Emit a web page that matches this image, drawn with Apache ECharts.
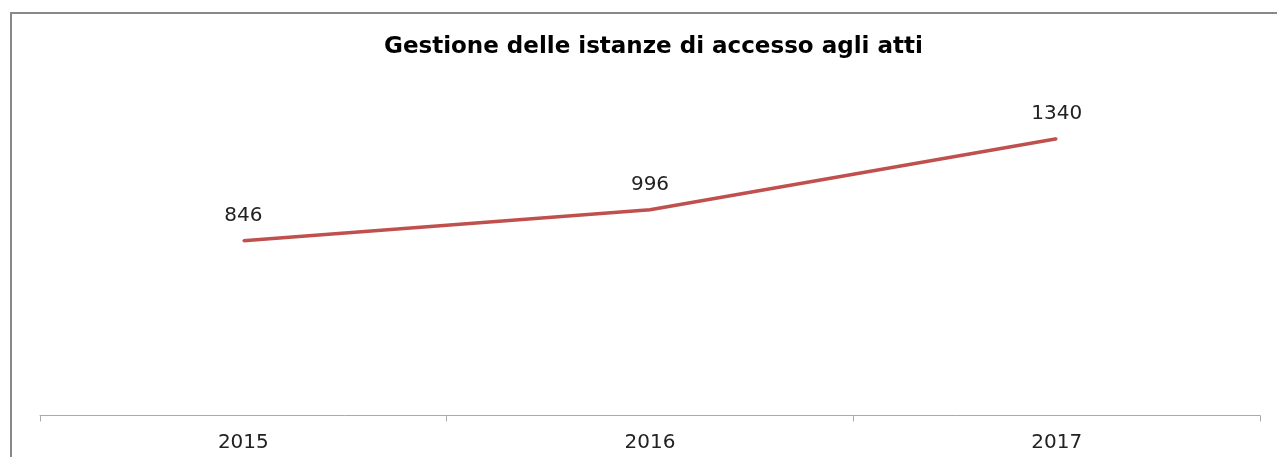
<!DOCTYPE html>
<html>
<head>
<meta charset="utf-8">
<title>Gestione delle istanze di accesso agli atti</title>
<script src="https://cdn.jsdelivr.net/npm/echarts@6/dist/echarts.min.js"></script>
<style>
  html, body { margin: 0; padding: 0; background: #fff; }
  #main { width: 1277px; height: 457px; }
</style>
</head>
<body>
<div id="main"></div>
<script>
// dati
var anni = ['2015', '2016', '2017'];
var istanze = [846, 996, 1340];

var chart = echarts.init(document.getElementById('main'));

var option = {
  backgroundColor: '#fff',
  animation: false,
  title: {
    text: 'Gestione delle istanze di accesso agli atti',
    left: 379,
    top: 31,
    textStyle: {
      fontFamily: 'DejaVu Sans',
      fontWeight: 'bold',
      fontSize: 23,
      color: '#000'
    }
  },
  // cornice grigia (solo lato sinistro e superiore)
  graphic: [{
    type: 'polyline',
    shape: { points: [[11, 457], [11, 13], [1277, 13]] },
    style: { stroke: '#888', lineWidth: 2, fill: null },
    silent: true
  }],
  grid: {
    left: 40,
    right: 17,
    top: 85,
    bottom: 41.5,
    show: false
  },
  xAxis: {
    type: 'category',
    data: anni,
    boundaryGap: true,
    axisLine: { lineStyle: { color: '#aaa', width: 1 } },
    axisTick: { show: true, length: 6, lineStyle: { color: '#aaa' } },
    axisLabel: {
      margin: 17,
      fontFamily: 'DejaVu Sans',
      fontSize: 20,
      color: '#222'
    }
  },
  yAxis: {
    type: 'value',
    min: 0,
    max: 1600,
    show: false,
    splitLine: { show: false }
  },
  series: [{
    name: 'Istanze',
    type: 'line',
    data: istanze,
    symbol: 'circle',
    symbolSize: 2,
    showSymbol: true,
    lineStyle: { color: '#C0504D', width: 3.5 },
    itemStyle: { color: '#C0504D' },
    label: {
      show: true,
      position: 'top',
      distance: 14,
      fontFamily: 'DejaVu Sans',
      fontSize: 20,
      color: '#222'
    }
  }]
};

chart.setOption(option);
</script>
</body>
</html>
